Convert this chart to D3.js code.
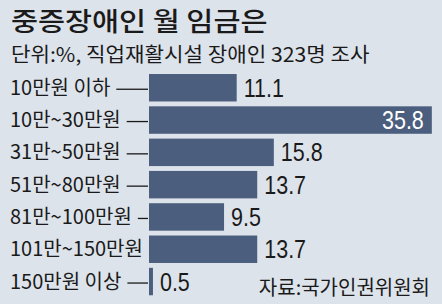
<!DOCTYPE html>
<html>
<head>
<meta charset="utf-8">
<script src="https://cdn.jsdelivr.net/npm/d3@7"></script>
<style>
  body { margin: 0; background: #dde3ea; }
  svg { display: block; }
</style>
</head>
<body>
<script>
var categories = ["10만원 이하", "10만~30만원", "31만~50만원", "51만~80만원", "81만~100만원", "101만~150만원", "150만원 이상"];
var values = [11.1, 35.8, 15.8, 13.7, 9.5, 13.7, 0.5];
var title = "중증장애인 월 임금은";
var subtitle = "단위:%, 직업재활시설 장애인 323명 조사";
var source = "자료:국가인권위원회";

var width = 442, height = 304;
var korFont = "'Noto Sans CJK KR', 'Noto Sans', sans-serif";
var numFont = "'Liberation Sans', Arial, sans-serif";

var svg = d3.select("body").append("svg")
  .attr("width", width)
  .attr("height", height);

svg.append("rect")
  .attr("width", width)
  .attr("height", height)
  .attr("fill", "#dde3ea");

var x = d3.scaleLinear()
  .domain([0, 36])
  .range([149, 149 + 36 * 7.9]);

var y = d3.scaleBand()
  .domain(categories)
  .range([71.6, 297.7])
  .paddingInner(0.15)
  .paddingOuter(0.075);

// title and subtitle are stretched a little, the original face is wide
svg.append("text")
  .attr("transform", "translate(11,31) scale(1.13,1)")
  .attr("font-family", korFont)
  .attr("font-size", 26)
  .attr("font-weight", 500)
  .attr("fill", "#1a1a1a")
  .text(title);

svg.append("text")
  .attr("transform", "translate(11,61.5) scale(1.06,1)")
  .attr("font-family", korFont)
  .attr("font-size", 20)
  .attr("fill", "#1a1a1a")
  .text(subtitle);

var rows = svg.append("g").selectAll("g")
  .data(categories)
  .enter()
  .append("g");

rows.append("rect")
  .attr("x", x(0))
  .attr("y", function(d) { return y(d); })
  .attr("width", function(d, i) { return x(values[i]) - x(0); })
  .attr("height", y.bandwidth())
  .attr("fill", "#4b5e7e");

var labels = rows.append("text")
  .attr("x", 10)
  .attr("y", function(d) { return y(d) + y.bandwidth() / 2 + 7; })
  .attr("font-family", korFont)
  .attr("font-size", 20)
  .attr("fill", "#1a1a1a")
  .text(function(d) { return d; });

// connector lines from label to bar
labels.each(function(d) {
  var end = 10 + this.getComputedTextLength() + 6;
  if (x(0) - end > 4) {
    d3.select(this.parentNode).append("line")
      .attr("x1", end)
      .attr("x2", x(0) - 1)
      .attr("y1", y(d) + y.bandwidth() / 2 + 1.5)
      .attr("y2", y(d) + y.bandwidth() / 2 + 1.5)
      .attr("stroke", "#1a1a1a")
      .attr("stroke-width", 1.3);
  }
});

// value labels, squeezed horizontally to mimic a condensed face
rows.append("text")
  .attr("transform", function(d, i) {
    var inside = values[i] > 30;
    var tx = inside ? x(values[i]) - 8 : x(values[i]) + 7;
    return "translate(" + tx + "," + (y(d) + y.bandwidth() / 2 + 9) + ") scale(0.86,1)";
  })
  .attr("text-anchor", function(d, i) { return values[i] > 30 ? "end" : "start"; })
  .attr("font-family", numFont)
  .attr("font-size", 25)
  .attr("fill", function(d, i) { return values[i] > 30 ? "#ffffff" : "#1a1a1a"; })
  .text(function(d, i) { return values[i]; });

svg.append("text")
  .attr("x", 430)
  .attr("y", 295)
  .attr("text-anchor", "end")
  .attr("font-family", korFont)
  .attr("font-size", 20)
  .attr("fill", "#1a1a1a")
  .text(source);
</script>
</body>
</html>
